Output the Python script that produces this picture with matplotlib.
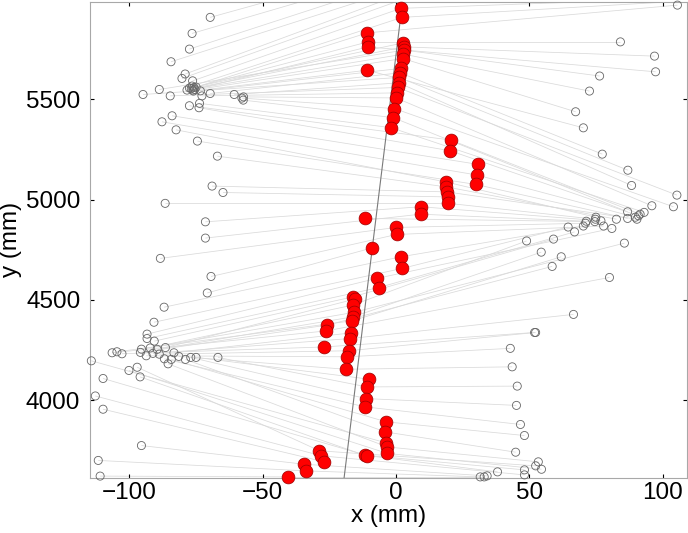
import numpy as np
import matplotlib
matplotlib.use("Agg")
import matplotlib.pyplot as plt
from matplotlib.collections import LineCollection

plt.rcParams["font.family"] = ["Liberation Sans", "DejaVu Sans"]

# estimated centre points (red); the first few lie just above the visible window
red_x = [4.6, 4.3, 4.0, 3.8, 3.5, 3.3,
         1.9, 2.3, 2.8, 3.1, 3.1, 2.8, 2.6, 1.9, 1.6, 1.2, 1.0, 0.6, 0.4, 0.0, -0.6, -1.1, -1.9,
         -10.7, -10.5, -10.5, -10.8,
         20.6, 20.3, 30.8, 30.4, 30.0, 18.6, 18.9, 19.1, 19.5, 19.7, 9.4, 9.2,
         -11.8, 0.0, 0.2, -9.0, 1.9, 2.3, -7.3, -6.4,
         -16.3, -15.5, -16.3, -15.9, -16.1, -16.5, -25.7, -26.1, -26.9,
         -16.8, -17.1, -17.8, -18.4, -18.9, -10.3, -10.9, -11.3, -11.8,
         -3.6, -4.0, -3.6, -3.2, -3.2, -11.8, -10.8, -28.7, -28.0, -26.9, -34.4, -33.8, -40.7]
red_y = [6180, 6140, 6100, 6060, 6030, 6000,
         5952, 5907, 5780, 5760, 5744, 5724, 5702, 5653, 5631, 5608, 5581, 5558, 5531, 5506, 5453, 5408, 5358,
         5830, 5785, 5760, 5644,
         5296, 5243, 5175, 5122, 5075, 5088, 5063, 5038, 5013, 4981, 4964, 4927,
         4906, 4861, 4826, 4759, 4715, 4657, 4607, 4562,
         4515, 4504, 4474, 4438, 4416, 4396, 4375, 4346, 4266,
         4336, 4308, 4247, 4217, 4155, 4106, 4067, 4009, 3968,
         3893, 3843, 3788, 3768, 3736, 3727, 3725, 3749, 3724, 3694, 3682, 3649, 3619]

# measured points, left side
left_x = [-69.7, -76.5, -77.5, -84.4, -79.1, -80.3, -76.3,
          -76.5, -75.8, -76.8, -75.5, -76.2, -77.5, -75.0, -76.0,
          -78.4, -88.8, -94.9, -84.7, -73.4, -72.8, -69.7, -60.7, -57.2, -57.3, -57.8,
          -77.5, -73.7, -73.9, -84.0, -87.8, -82.5, -74.5, -67.0, -69.0, -64.9, -86.6, -71.5, -71.5,
          -88.4, -69.4, -70.8, -87.0, -90.8, -93.4, -93.4, -90.7, -95.5, -92.2, -86.5,
          -106.5, -104.7, -102.8, -95.9, -93.7, -91.2, -89.6, -83.3, -88.8, -86.9, -85.5,
          -84.3, -81.5, -79.0, -77.0, -75.0, -66.8, -114.3, -100.2, -97.1, -96.0, -109.9,
          -112.8, -109.9, -95.5, -111.7, -111.0]
left_y = [5907, 5827, 5749, 5686, 5625, 5603, 5591,
          5565, 5558, 5552, 5548, 5545, 5555, 5560, 5540,
          5545, 5548, 5523, 5516, 5541, 5516, 5528, 5523, 5511, 5495, 5505,
          5467, 5479, 5457, 5417, 5387, 5347, 5291, 5216, 5067, 5035, 4981, 4889, 4808,
          4707, 4617, 4535, 4464, 4389, 4330, 4308, 4295, 4255, 4261, 4263,
          4237, 4242, 4232, 4239, 4222, 4234, 4254, 4237, 4230, 4207, 4182,
          4204, 4219, 4204, 4214, 4214, 4214, 4197, 4149, 4165, 4117, 4109,
          4022, 3956, 3775, 3701, 3623]

# measured points, right side; the first few lie above the visible window
right_x = [118.0, 112.0, 122.0, 108.0, 115.0, 104.0, 110.0,
           105.6, 84.2, 97.0, 97.4, 76.4, 72.6, 67.4, 70.3, 77.4, 87.0, 88.4,
           105.4, 104.1, 96.0, 93.1, 91.0, 90.4, 91.6, 89.8, 86.9, 86.9, 82.7, 81.0, 77.9,
           76.9, 74.8, 75.0, 74.6, 71.4, 71.1, 70.3, 64.6, 67.0, 59.1, 49.0, 85.7,
           54.5, 62.0, 58.6, 80.1, 66.6, 52.0, 52.4, 42.9, 43.6, 45.5, 45.2, 46.7, 48.2,
           44.9, 53.4, 52.4, 54.6, 48.2, 48.2, 38.1, 31.6, 33.1, 34.2]
right_y = [6090, 6060, 6040, 6030, 6010, 6000, 5990,
           5968, 5785, 5714, 5636, 5615, 5540, 5437, 5357, 5226, 5146, 5070,
           5022, 4964, 4969, 4936, 4919, 4902, 4927, 4912, 4939, 4906, 4902, 4856, 4868,
           4894, 4902, 4912, 4890, 4892, 4882, 4868, 4863, 4839, 4803, 4794, 4783,
           4738, 4715, 4667, 4612, 4428, 4338, 4338, 4259, 4167, 4071, 3975, 3880, 3825,
           3742, 3694, 3674, 3657, 3654, 3629, 3644, 3619, 3619, 3624]

# fitted centre line (two ends)
trend_x = [-19.6, 2.5]
trend_y = [3600, 5990]

x_ticks = [-100, -50, 0, 50, 100]
y_ticks = [4000, 4500, 5000, 5500]

xlim = (-114.8, 109.0)
ylim = (3616, 5986)

red_x, red_y = np.array(red_x), np.array(red_y)
left_x, left_y = np.array(left_x), np.array(left_y)
right_x, right_y = np.array(right_x), np.array(right_y)


def links(px, py):
    # pair every measured point with a centre point of similar rank along y
    r_order = np.argsort(-red_y)
    p_order = np.argsort(-py)
    idx = np.round(np.arange(len(px)) * (len(red_x) - 1) / (len(px) - 1)).astype(int)
    segs = []
    for k, i in enumerate(p_order):
        j = r_order[idx[k]]
        segs.append([(px[i], py[i]), (red_x[j], red_y[j])])
    return segs


def inside(x, y):
    return (x >= xlim[0]) & (x <= xlim[1]) & (y >= ylim[0] - 10) & (y <= ylim[1])


fig = plt.figure(figsize=(6.88, 5.33), dpi=100)
ax = fig.add_axes([90 / 688, 55.5 / 533, 596.5 / 688, 476 / 533])

ax.add_collection(LineCollection(links(left_x, left_y) + links(right_x, right_y),
                                 colors="#dadada", linewidths=0.55, zorder=1))
ax.plot(trend_x, trend_y, color="#7a7a7a", lw=0.8, zorder=2)
for px, py in [(left_x, left_y), (right_x, right_y)]:
    m = inside(px, py)
    ax.scatter(px[m], py[m], s=34, facecolors="none", edgecolors="#666666",
               linewidths=0.6, zorder=3, clip_on=False)
m = inside(red_x, red_y)
ax.scatter(red_x[m], red_y[m], s=85, facecolors="#ff0000", edgecolors="#9a0000",
           linewidths=0.5, zorder=4, clip_on=False)

ax.set_xlim(*xlim)
ax.set_ylim(*ylim)
ax.set_xticks(x_ticks)
ax.set_yticks(y_ticks)
ax.tick_params(direction="in", length=3, width=0.8, top=True, right=True,
               labelsize=17.5, color="black")
ax.tick_params(axis="x", pad=3)
ax.tick_params(axis="y", pad=7)
for sp in ax.spines.values():
    sp.set_color("#a8a8a8")
    sp.set_linewidth(0.8)

ax.set_xlabel("x (mm)", fontsize=17.5, labelpad=1)
ax.set_ylabel("y (mm)", fontsize=17.5, labelpad=3)

fig.savefig("out.png", dpi=100)
